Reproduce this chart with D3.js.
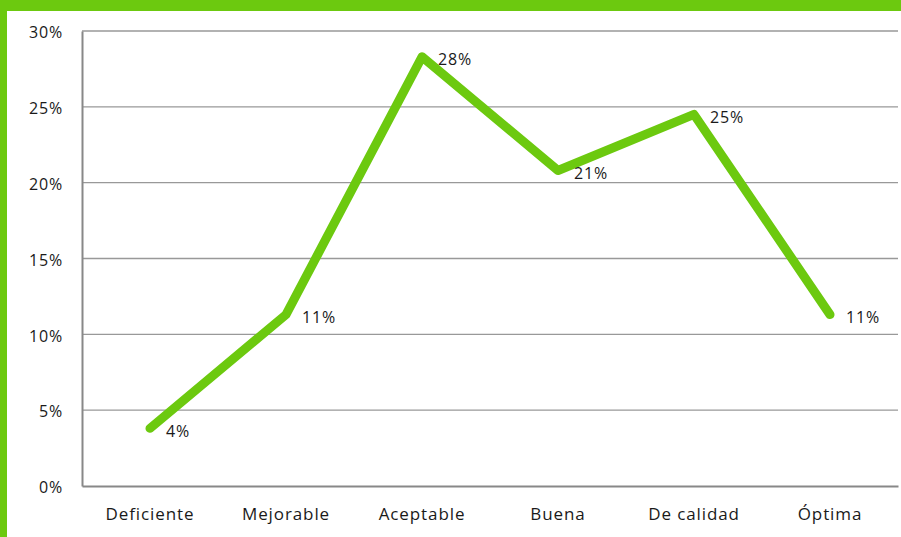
<!DOCTYPE html>
<html>
<head>
<meta charset="utf-8">
<script src="https://cdn.jsdelivr.net/npm/d3@7"></script>
<style>
  body { margin: 0; background: #fff; }
  svg { display: block; }
  text { font-family: "Open Sans", "DejaVu Sans", sans-serif; fill: #1a1a1a; }
</style>
</head>
<body>
<svg id="chart"></svg>
<script>
var categories = ["Deficiente", "Mejorable", "Aceptable", "Buena", "De calidad", "Óptima"];
var values = [3.8, 11.3, 28.3, 20.8, 24.5, 11.3];
var labels = ["4%", "11%", "28%", "21%", "25%", "11%"];
var yTicks = [0, 5, 10, 15, 20, 25, 30];

var width = 901, height = 537;
var green = "#6cc90f";
var margin = { top: 31, right: 3, bottom: 51, left: 82 };

var svg = d3.select("#chart").attr("width", width).attr("height", height);

// frame
svg.append("rect").attr("x", 0).attr("y", 0).attr("width", width).attr("height", 11).attr("fill", green);
svg.append("rect").attr("x", 0).attr("y", 0).attr("width", 7).attr("height", height).attr("fill", green);

var x = d3.scaleBand().domain(categories)
	.range([margin.left, width - margin.right]);
var y = d3.scaleLinear().domain([0, 30])
	.range([height - margin.bottom, margin.top]);

// gridlines
svg.append("g").selectAll("line").data(yTicks.slice(1)).enter().append("line")
	.attr("x1", margin.left).attr("x2", width - margin.right)
	.attr("y1", function(d){ return y(d); }).attr("y2", function(d){ return y(d); })
	.attr("stroke", "#999").attr("stroke-width", 1.3);

// y axis
var yAxis = svg.append("g").attr("transform", "translate(" + margin.left + ",0)")
	.call(d3.axisLeft(y).tickValues(yTicks).tickSize(0).tickPadding(19)
		.tickFormat(function(d){ return d + "%"; }));
yAxis.select(".domain").attr("stroke", "#888").attr("stroke-width", 2);
yAxis.selectAll("text").style("font-size", "16px").style("letter-spacing", "0.8px").attr("dy", "0.42em");

// x axis
var xAxis = svg.append("g").attr("transform", "translate(0," + y(0) + ")")
	.call(d3.axisBottom(x).tickSize(0).tickPadding(22));
xAxis.select(".domain").attr("stroke", "#888").attr("stroke-width", 2);
xAxis.selectAll("text").style("font-size", "17px").style("letter-spacing", "0.9px");

// line
var line = d3.line()
	.x(function(d, i){ return x(categories[i]) + x.bandwidth() / 2; })
	.y(function(d){ return y(d); });

svg.append("path").datum(values)
	.attr("d", line)
	.attr("fill", "none")
	.attr("stroke", green)
	.attr("stroke-width", 9)
	.attr("stroke-linecap", "round")
	.attr("stroke-linejoin", "round");

// data labels
svg.append("g").selectAll("text").data(values).enter().append("text")
	.attr("x", function(d, i){ return x(categories[i]) + x.bandwidth() / 2 + 16; })
	.attr("y", function(d){ return y(d) + 3; })
	.attr("dy", "0.35em")
	.style("font-size", "16px")
	.style("letter-spacing", "0.8px")
	.text(function(d, i){ return labels[i]; });
</script>
</body>
</html>
